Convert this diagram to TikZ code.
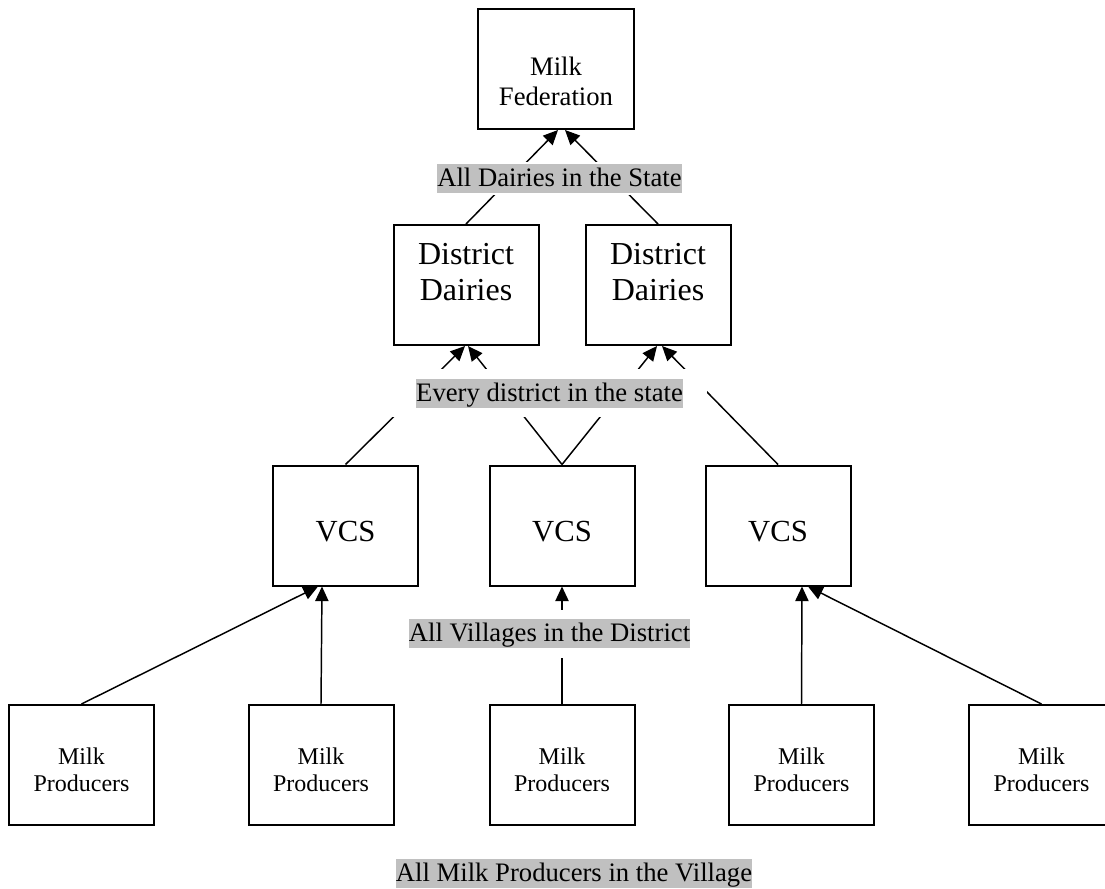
\documentclass[tikz,border=0pt]{standalone}
\usepackage{fontspec}
\setmainfont{Liberation Serif}
\usetikzlibrary{arrows.meta,calc}
\definecolor{hlgray}{HTML}{C0C0C0}
\begin{document}
\begin{tikzpicture}[x=0.75pt,y=-0.75pt,
  box/.style={draw, line width=1.5pt, inner sep=0pt, minimum width=145*0.75pt, minimum height=120*0.75pt},
  conn/.style={line width=1.1pt, -{Triangle[length=11pt,width=10pt]}},
  boxtext/.style={align=center, inner sep=0pt},
  hl/.style={fill=hlgray, inner sep=0pt, text height=17pt, text depth=4.8pt, font=\fontsize{20}{24}\selectfont},
  mask/.style={fill=white, inner sep=0pt}]
\useasboundingbox (0,0) rectangle (1105,888);

% boxes
\node[box, minimum width=156*0.75pt] (fed) at (556,69) {};
\node[box] (dd1) at (466,285) {};
\node[box] (dd2) at (658,285) {};
\node[box] (vcs1) at (345.5,525.5) {};
\node[box] (vcs2) at (562,525.5) {};
\node[box] (vcs3) at (778,525.5) {};
\node[box] (mp1) at (81.5,765) {};
\node[box] (mp2) at (321,765) {};
\node[box] (mp3) at (562,765) {};
\node[box] (mp4) at (801.5,765) {};
\node[box] (mp5) at (1041.5,765) {};

% box texts
\node[boxtext, font=\fontsize{20}{22.5}\selectfont] (fedt) at (556,81) {Milk\\Federation};
\node[boxtext, font=\fontsize{24}{26.8}\selectfont] (dd1t) at (466,272) {District\\Dairies};
\node[boxtext, font=\fontsize{24}{26.8}\selectfont] (dd2t) at (658,272) {District\\Dairies};
\node[boxtext, font=\fontsize{23}{26}\selectfont] (vcs1t) at (345.5,531.5) {VCS};
\node[boxtext, font=\fontsize{23}{26}\selectfont] (vcs2t) at (562,531.5) {VCS};
\node[boxtext, font=\fontsize{23}{26}\selectfont] (vcs3t) at (778,531.5) {VCS};
\foreach \i/\x in {1/81.5,2/321,3/562,4/801.5,5/1041.5}{
  \node[boxtext, font=\fontsize{18}{20.2}\selectfont] (mp\i t) at (\x,770) {Milk\\Producers};
}

% connectors
\draw[conn] (dd1.north) -- ($(fed.south)+(2,0)$);
\draw[conn] (dd2.north) -- ($(fed.south)+(9,0)$);
\draw[conn] (vcs1.north) -- ($(dd1.south)+(-1,0)$);
\draw[conn] (vcs2.north) -- ($(dd1.south)+(2,0)$);
\draw[conn] (vcs2.north) -- ($(dd2.south)+(-1,0)$);
\draw[conn] (vcs3.north) -- ($(dd2.south)+(4,0)$);
\draw[conn] (mp1.north) -- ($(vcs1.south)+(-27.5,0)$);
\draw[conn] (mp2.north) -- ($(vcs1.south)+(-23.5,0)$);
\draw[conn] (mp3.north) -- (vcs2.south);
\draw[conn] (mp4.north) -- ($(vcs3.south)+(24,0)$);
\draw[conn] (mp5.north) -- ($(vcs3.south)+(30,0)$);

% labels with white masks
\node[mask, minimum width=247*0.75pt, minimum height=33*0.75pt] (m1) at (559.5,178.5) {};
\node[hl] (l1) at (559.5,178.5) {All Dairies in the State};
\node[mask, minimum width=317*0.75pt, minimum height=48*0.75pt] (m2) at (548.5,393) {};
\node[hl] (l2) at (549.5,393.5) {Every district in the state};
\node[mask, minimum width=333*0.75pt, minimum height=48*0.75pt] (m3) at (549.5,634) {};
\node[hl] (l3) at (549.5,633.5) {All Villages in the District};
\node[hl] (l4) at (574,873.5) {All Milk Producers in the Village};
\end{tikzpicture}
\end{document}
